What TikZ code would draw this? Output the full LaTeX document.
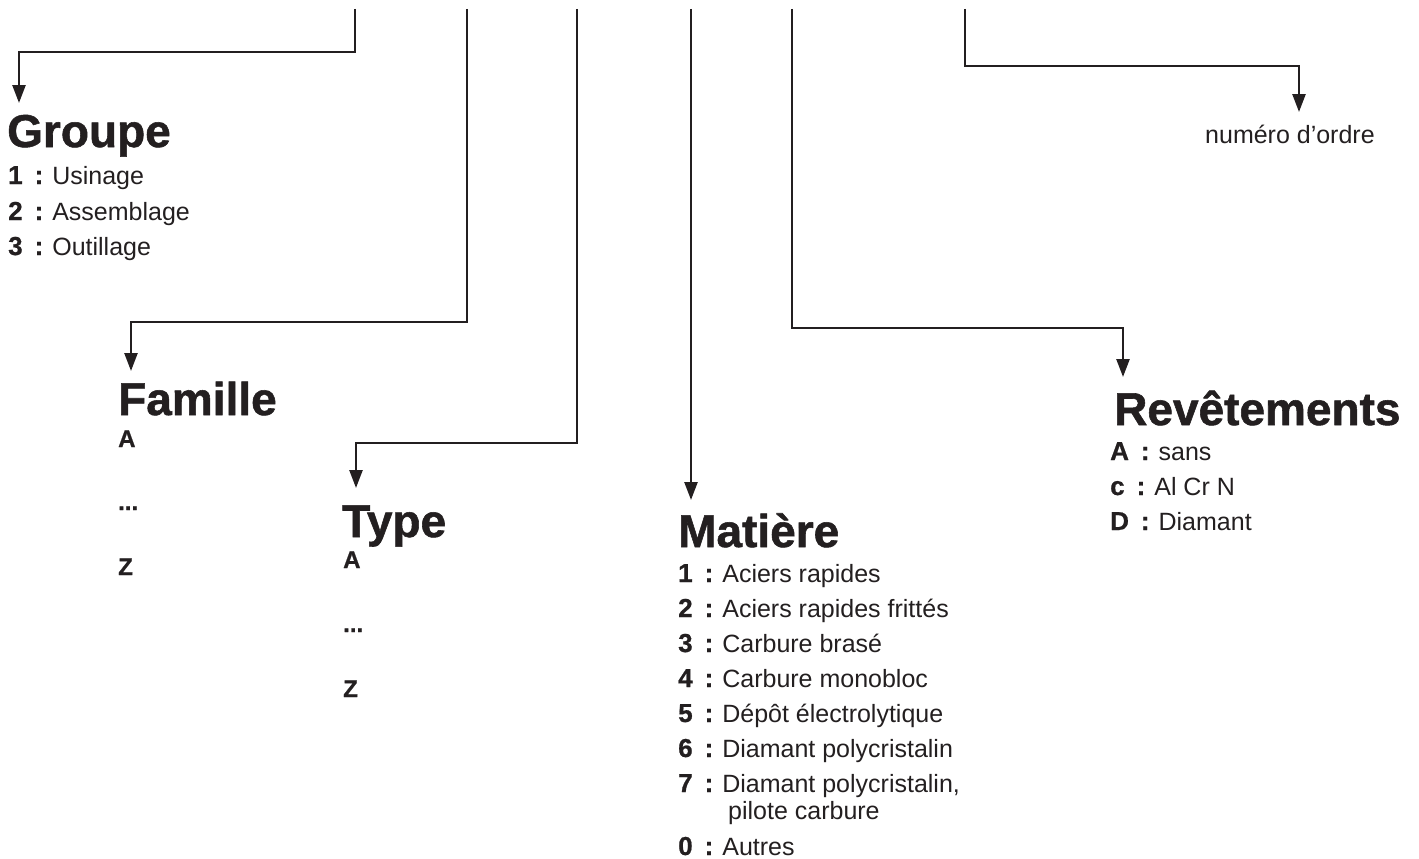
\documentclass[tikz,border=0pt]{standalone}
\usepackage{fontspec}
\setmainfont{Liberation Sans}
\newfontfamily\heavyfont{Liberation Sans Bold}[FakeBold=1.2]
\newfontfamily\labelfont{Liberation Sans Bold}[FakeBold=0.8]
\usetikzlibrary{arrows.meta}
\definecolor{ink}{HTML}{231F20}
\newcommand\lbl[1]{{\labelfont\fontsize{26}{26}\selectfont #1}}
\newcommand\itm[2]{\lbl{#1}\hspace{12pt}\lbl{:}\hspace{9pt}#2}
\begin{document}
\begin{tikzpicture}[x=1pt,y=-1pt,
  conn/.style={draw=ink,line width=2.5pt,-{Triangle[length=18pt,width=13pt]}},
  heading/.style={anchor=base west,inner sep=0pt,text=ink,font=\heavyfont\fontsize{46}{46}\selectfont},
  entry/.style={anchor=base west,inner sep=0pt,text=ink,font=\fontsize{25}{25}\selectfont},
  letter/.style={anchor=base west,inner sep=0pt,text=ink,font=\labelfont\fontsize{24}{24}\selectfont}]
\useasboundingbox (0,0) rectangle (1419,859);
% top free ends
\coordinate (t1) at (355,9);
\coordinate (t2) at (467,9);
\coordinate (t3) at (577,9);
\coordinate (t4) at (691,9);
\coordinate (t5) at (792,9);
\coordinate (t6) at (965,9);
% bend levels
\coordinate (b1) at (0,52);
\coordinate (b2) at (0,322);
\coordinate (b3) at (0,443);
\coordinate (b5) at (0,328);
\coordinate (b6) at (0,66);
% arrow tips
\coordinate (a1) at (19,103);
\coordinate (a2) at (131,371);
\coordinate (a3) at (356,488);
\coordinate (a4) at (691,500);
\coordinate (a5) at (1123,377);
\coordinate (a6) at (1299,112);

% Groupe
\node[heading] (groupe) at (7,147) {Groupe};
\node[entry] (g1) at (8,184) {\itm{1}{Usinage}};
\node[entry] (g2) at (8,220) {\itm{2}{Assemblage}};
\node[entry] (g3) at (8,255) {\itm{3}{Outillage}};

% Famille
\node[heading] (famille) at (118,415) {Famille};
\node[letter] (fa) at (118,447) {A};
\node[letter] (fd) at (118,510) {...};
\node[letter] (fz) at (118,575) {Z};

% Type
\node[heading] (type) at (342,537) {Type};
\node[letter] (ta) at (343,568) {A};
\node[letter] (td) at (343,632) {...};
\node[letter] (tz) at (343,697) {Z};

% Matiere
\node[heading] (matiere) at (678,547) {Matière};
\node[entry] (m1) at (678,582) {\itm{1}{Aciers rapides}};
\node[entry] (m2) at (678,617) {\itm{2}{Aciers rapides frittés}};
\node[entry] (m3) at (678,652) {\itm{3}{Carbure brasé}};
\node[entry] (m4) at (678,687) {\itm{4}{Carbure monobloc}};
\node[entry] (m5) at (678,722) {\itm{5}{Dépôt électrolytique}};
\node[entry] (m6) at (678,757) {\itm{6}{Diamant polycristalin}};
\node[entry] (m7) at (678,792) {\itm{7}{Diamant polycristalin,}};
\node[entry] (m7b) at (728,819) {pilote carbure};
\node[entry] (m0) at (678,855) {\itm{0}{Autres}};

% Revetements
\node[heading] (revet) at (1114,425) {Revêtements};
\node[entry] (r1) at (1110,460) {\itm{A}{sans}};
\node[entry] (r2) at (1110,495) {\itm{c}{Al Cr N}};
\node[entry] (r3) at (1110,530) {\itm{D}{Diamant}};

% numero d'ordre
\node[entry] (ordre) at (1205,143) {numéro d’ordre};

% connectors
\draw[conn] (t1) -- (t1|-b1) -| (a1);
\draw[conn] (t2) -- (t2|-b2) -| (a2);
\draw[conn] (t3) -- (t3|-b3) -| (a3);
\draw[conn] (t4) -- (a4);
\draw[conn] (t5) -- (t5|-b5) -| (a5);
\draw[conn] (t6) -- (t6|-b6) -| (a6);
\end{tikzpicture}
\end{document}
